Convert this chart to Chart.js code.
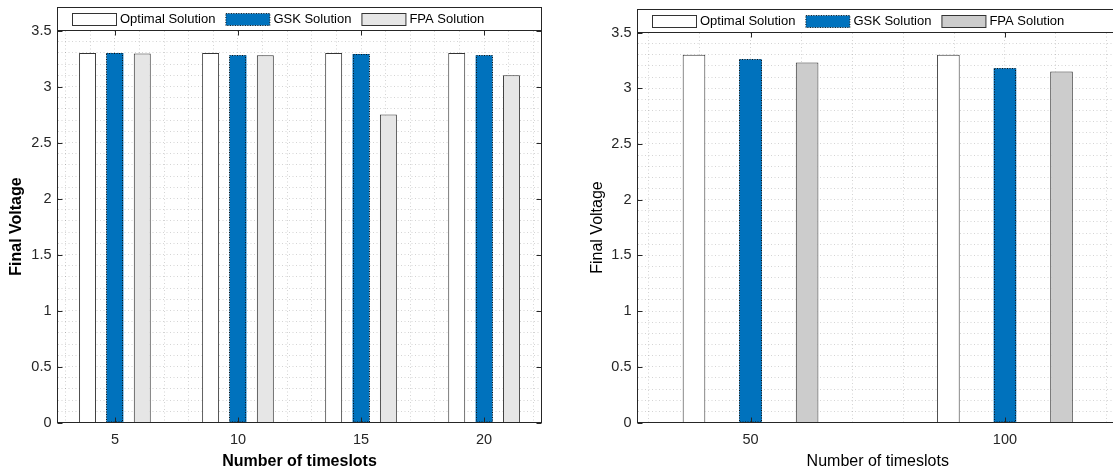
<!DOCTYPE html>
<html>
<head>
<meta charset="utf-8">
<script src="https://cdn.jsdelivr.net/npm/chart.js@4.4.1/dist/chart.umd.min.js"></script>
<style>
html,body{margin:0;padding:0;background:#fff;width:1113px;height:473px;overflow:hidden;}
.wrap{position:absolute;top:0;}
</style>
</head>
<body>
<div class="wrap" style="left:0;width:556px;height:473px"><canvas id="c1" width="556" height="473"></canvas></div>
<div class="wrap" style="left:556px;width:580px;height:473px"><canvas id="c2" width="580" height="473"></canvas></div>
<script>
// ---------- data ----------
const seriesLabels = ['Optimal Solution', 'GSK Solution', 'FPA Solution'];

const leftCategories = [5, 10, 15, 20];
const leftTickLabels = ['5', '10', '15', '20'];
const leftOptimal = [3.30, 3.30, 3.30, 3.30];
const leftGSK     = [3.30, 3.28, 3.29, 3.28];
const leftFPA     = [3.295, 3.28, 2.75, 3.10];

const rightCategories = [50, 100];
const rightTickLabels = ['50', '100'];
const rightOptimal = [3.30, 3.30];
const rightGSK     = [3.26, 3.18];
const rightFPA     = [3.23, 3.15];

const yTickValues = [0, 0.5, 1, 1.5, 2, 2.5, 3, 3.5];
const yTickLabels = ['0', '0.5', '1', '1.5', '2', '2.5', '3', '3.5'];

// ---------- style ----------
const FONT = '"Liberation Sans", Arial, Helvetica, sans-serif';
const AXIS = '#262626';
const GRID = 'rgba(38,38,38,0.2)';
const BLUE = '#0072BD';

const yMinor = [];
for (let i = 0; i <= 35; i++) yMinor.push(i / 10);

const framePlugin = {
  id: 'frame',
  beforeDraw(chart) {
    const ctx = chart.ctx;
    ctx.save();
    ctx.fillStyle = '#fff';
    ctx.fillRect(0, 0, chart.width, chart.height);
    ctx.restore();
  },
  afterDatasetsDraw(chart) {
    const ctx = chart.ctx;
    chart.data.datasets.forEach((ds, di) => {
      if (!ds.dotted) return;
      const meta = chart.getDatasetMeta(di);
      ctx.save();
      ctx.setLineDash([1, 1.5]);
      ctx.strokeStyle = '#111';
      ctx.lineWidth = 1;
      meta.data.forEach(el => {
        const p = el.getProps(['x', 'y', 'base', 'width'], true);
        const l = Math.round(p.x - p.width / 2) + 0.5;
        const r = Math.round(p.x + p.width / 2) - 0.5;
        const t = Math.round(p.y) + 0.5;
        ctx.strokeRect(l, t, r - l, p.base - t);
      });
      ctx.restore();
    });
  },
  afterDraw(chart, args, opts) {
    const ctx = chart.ctx;
    const a = chart.chartArea;
    const xs = chart.scales.x, ys = chart.scales.y;
    ctx.save();
    // axes box
    ctx.strokeStyle = AXIS;
    ctx.lineWidth = 1;
    ctx.strokeRect(a.left, a.top, a.right - a.left, a.bottom - a.top);
    // inward tick marks
    ctx.beginPath();
    opts.xMajor.forEach(v => {
      const px = Math.round(xs.getPixelForValue(v)) + 0.5;
      ctx.moveTo(px, a.bottom); ctx.lineTo(px, a.bottom - 5);
      ctx.moveTo(px, a.top); ctx.lineTo(px, a.top + 5);
    });
    yTickValues.forEach(v => {
      const py = Math.round(ys.getPixelForValue(v)) + 0.5;
      ctx.moveTo(a.left, py); ctx.lineTo(a.left + 5, py);
      ctx.moveTo(a.right, py); ctx.lineTo(a.right - 5, py);
    });
    ctx.stroke();
    // legend frame
    const lt = opts.legendTop;
    ctx.fillStyle = '#fff';
    ctx.fillRect(a.left, lt, a.right - a.left, a.top - lt);
    ctx.strokeStyle = AXIS;
    ctx.strokeRect(a.left, lt, a.right - a.left, a.top - lt);
    // legend items
    const cy = (lt + a.top) / 2;
    let x = Math.round(a.left + 14) + 0.5;
    ctx.font = '13px ' + FONT;
    ctx.textBaseline = 'middle';
    chart.data.datasets.forEach(ds => {
      const sy = Math.round(cy - 6) + 0.5;
      ctx.fillStyle = ds.backgroundColor;
      ctx.fillRect(x, sy, 44, 12);
      ctx.lineWidth = 1;
      if (ds.dotted) {
        ctx.setLineDash([1, 1.5]);
        ctx.strokeStyle = '#111';
      } else {
        ctx.setLineDash([]);
        ctx.strokeStyle = '#333';
      }
      ctx.strokeRect(x, sy, 44, 12);
      ctx.setLineDash([]);
      ctx.fillStyle = '#000';
      ctx.fillText(ds.label, x + 47.5, cy + 0.5);
      x += 47.5 + ctx.measureText(ds.label).width + 10.5;
    });
    ctx.restore();
  }
};

function makeChart(id, cfg) {
  const toPts = (cats, vals) => cats.map((c, i) => ({ x: c, y: vals[i] }));
  const common = {
    borderWidth: 1,
    borderColor: '#333',
    categoryPercentage: cfg.catPct,
    barPercentage: cfg.barPct
  };
  return new Chart(document.getElementById(id), {
    type: 'bar',
    data: {
      datasets: [
        Object.assign({ label: seriesLabels[0], data: toPts(cfg.cats, cfg.opt), backgroundColor: '#ffffff' }, common),
        Object.assign({}, common, { label: seriesLabels[1], data: toPts(cfg.cats, cfg.gsk), backgroundColor: BLUE, borderWidth: 0, dotted: true }),
        Object.assign({ label: seriesLabels[2], data: toPts(cfg.cats, cfg.fpa), backgroundColor: cfg.fpaColor }, common)
      ]
    },
    options: {
      responsive: false,
      animation: false,
      devicePixelRatio: 1,
      layout: { padding: { top: cfg.top, right: cfg.padRight, left: 0, bottom: 0 } },
      plugins: {
        legend: { display: false },
        tooltip: { enabled: false },
        frame: { xMajor: cfg.cats, legendTop: cfg.legendTop }
      },
      scales: {
        x: {
          type: 'linear', position: 'bottom', min: cfg.xmin, max: cfg.xmax,
          offset: false,
          afterBuildTicks: s => { s.ticks = cfg.cats.map(v => ({ value: v })); },
          afterFit: s => { s.height = 473 - cfg.bottom; },
          grid: { display: false, drawTicks: false, offset: false },
          border: { display: false },
          ticks: {
            autoSkip: false, maxRotation: 0, padding: 9,
            color: AXIS, font: { family: FONT, size: 14.5 },
            callback: (v, i) => cfg.tickLabels[i]
          },
          title: {
            display: true, text: 'Number of timeslots', color: '#000',
            font: { family: FONT, size: 16, weight: cfg.bold ? 'bold' : 'normal' },
            padding: { top: 0, bottom: 2 }
          }
        },
        x2: {
          type: 'linear', position: 'top', min: cfg.xmin, max: cfg.xmax,
          offset: false,
          afterBuildTicks: s => { s.ticks = cfg.xMinor.map(v => ({ value: v })); },
          afterFit: s => { s.height = 0; },
          grid: { color: GRID, drawTicks: false, lineWidth: 1, offset: false },
          border: { display: false, dash: [1, 2.5] },
          ticks: { display: false }
        },
        y: {
          type: 'linear', position: 'left', min: 0, max: 3.5,
          afterBuildTicks: s => { s.ticks = yMinor.map(v => ({ value: v })); },
          afterFit: s => { s.width = cfg.left; },
          grid: { color: GRID, drawTicks: false, lineWidth: 1 },
          border: { display: false, dash: [1, 2.5] },
          ticks: {
            autoSkip: false, padding: 6, color: AXIS, font: { family: FONT, size: 14.5 },
            callback: v => {
              const k = yTickValues.findIndex(m => Math.abs(m - v) < 1e-9);
              return k >= 0 ? yTickLabels[k] : '';
            }
          },
          title: {
            display: true, text: 'Final Voltage', color: '#000',
            font: { family: FONT, size: 16, weight: cfg.bold ? 'bold' : 'normal' },
            padding: { top: cfg.ytitlePad, bottom: 0 }
          }
        }
      }
    },
    plugins: [framePlugin]
  });
}

const leftMinor = [];
for (let v = 3; v <= 22; v++) leftMinor.push(v);
const rightMinor = [];
for (let v = 30; v <= 120; v += 10) rightMinor.push(v);

makeChart('c1', {
  cats: leftCategories, tickLabels: leftTickLabels,
  opt: leftOptimal, gsk: leftGSK, fpa: leftFPA, fpaColor: '#E6E6E6',
  xmin: 2.667, xmax: 22.333, xMinor: leftMinor,
  catPct: 0.667, barPct: 0.62,
  left: 57.5, top: 30.5, bottom: 422.5, padRight: 14.5, legendTop: 7.5,
  ytitlePad: 7, bold: true
});

makeChart('c2', {
  cats: rightCategories, tickLabels: rightTickLabels,
  opt: rightOptimal, gsk: rightGSK, fpa: rightFPA, fpaColor: '#CCCCCC',
  xmin: 27.78, xmax: 122.22, xMinor: rightMinor,
  catPct: 0.667, barPct: 0.4,
  left: 81.5, top: 32.5, bottom: 422.5, padRight: 18, legendTop: 9.5,
  ytitlePad: 32.4, bold: false
});
</script>
</body>
</html>
